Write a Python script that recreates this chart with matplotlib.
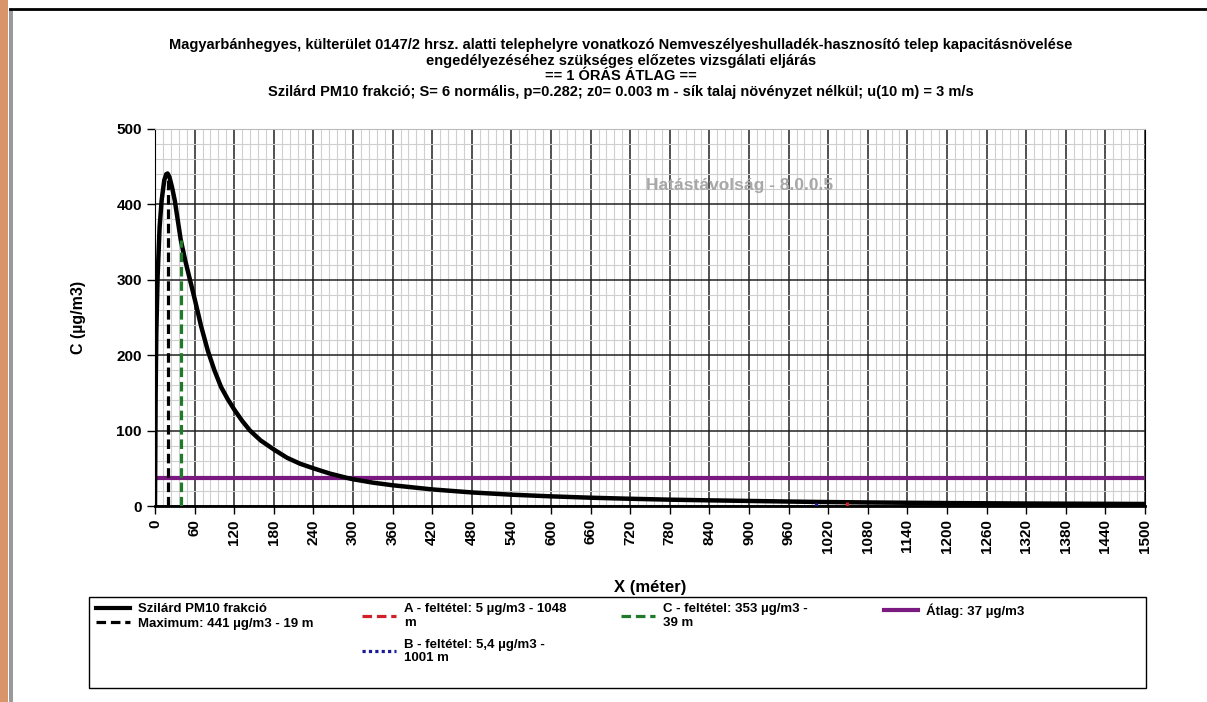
import numpy as np
import matplotlib
matplotlib.use("Agg")
import matplotlib.pyplot as plt
from matplotlib.patches import Rectangle
from matplotlib.lines import Line2D
from matplotlib.ticker import MultipleLocator

plt.rcParams['font.family'] = ['Liberation Sans', 'DejaVu Sans']
plt.rcParams['font.weight'] = 'bold'

# concentration curve
x_m = [0, 1, 2, 4, 7, 10, 14, 17, 19, 22, 26, 30, 39, 46, 53, 60, 70, 80, 90, 100,
       110, 120, 132, 144, 160, 180, 200, 220, 240, 265, 292, 300, 330, 360, 420,
       480, 540, 600, 660, 720, 780, 840, 900, 960, 1001, 1048, 1080, 1140, 1200,
       1260, 1320, 1380, 1440, 1500]
c_ug = [0, 150, 230, 305, 370, 405, 432, 440, 441, 436, 422, 405, 353, 325, 300, 275,
        238, 206, 180, 158, 142, 128, 113, 100, 87, 75, 64, 56, 50, 43, 37, 35.5,
        31, 27.5, 22, 18, 15, 12.8, 11, 9.6, 8.4, 7.5, 6.7, 5.9, 5.4, 5.0, 4.7, 4.3,
        3.9, 3.6, 3.3, 3.1, 2.9, 2.7]

max_x, max_c = 19, 441
a_x, a_c = 1048, 5
b_x, b_c = 1001, 5.4
c_x, c_c = 39, 353
atlag = 37

titles = ["Magyarbánhegyes, külterület 0147/2 hrsz. alatti telephelyre vonatkozó Nemveszélyeshulladék-hasznosító telep kapacitásnövelése",
          "engedélyezéséhez szükséges előzetes vizsgálati eljárás",
          "== 1 ÓRÁS ÁTLAG ==",
          "Szilárd PM10 frakció; S= 6 normális, p=0.282; z0= 0.003 m - sík talaj növényzet nélkül; u(10 m) = 3 m/s"]

labels = ["Szilárd PM10 frakció",
          "Maximum: 441 µg/m3 - 19 m",
          "A - feltétel: 5 µg/m3 - 1048\nm",
          "B - feltétel: 5,4 µg/m3 -\n1001 m",
          "C - feltétel: 353 µg/m3 -\n39 m",
          "Átlag: 37 µg/m3"]

W, H = 1207, 702
fig = plt.figure(figsize=(W / 100, H / 100), dpi=100)
ax = fig.add_axes([155 / W, 1 - 506 / H, 990 / W, 377 / H])

# page decorations of the screenshot
fig.add_artist(Rectangle((0, 0), 8 / W, 1, transform=fig.transFigure,
                         facecolor='#d9946a', edgecolor='none'))
fig.add_artist(Rectangle((9 / W, 0), 4 / W, 1 - 9 / H, transform=fig.transFigure,
                         facecolor='#9a9a9a', edgecolor='none'))
fig.add_artist(Line2D([10 / W, 1], [1 - 9 / H, 1 - 9 / H], transform=fig.transFigure,
                      color='black', linewidth=2))

dash = (0, (3, 1.5))
ax.plot(x_m, c_ug, color='black', linewidth=3.2, zorder=5, solid_joinstyle='round')
ax.plot([max_x, max_x], [0, max_c], color='black', linestyle=dash, linewidth=2.3, zorder=6)
ax.plot([a_x, a_x], [0, a_c], color='#d0202a', linestyle=dash, linewidth=2.3, zorder=6)
ax.plot([b_x, b_x], [0, b_c], color='#1a1a9a', linestyle=(0, (1, 1)), linewidth=2.3, zorder=6)
ax.plot([c_x, c_x], [0, c_c], color='#1f7a2a', linestyle=dash, linewidth=2.3, zorder=6)
ax.axhline(atlag, color='#7a1a80', linewidth=3, zorder=4)

ax.set_xlim(0, 1500)
ax.set_ylim(0, 500)
ax.xaxis.set_major_locator(MultipleLocator(60))
ax.xaxis.set_minor_locator(MultipleLocator(12))
ax.yaxis.set_major_locator(MultipleLocator(100))
ax.yaxis.set_minor_locator(MultipleLocator(20))
ax.grid(which='major', color='#222222', linewidth=1.1)
ax.grid(which='minor', color='#cfcfcf', linewidth=0.8)
ax.set_axisbelow(True)
ax.spines['top'].set_color('#bbbbbb')
for s in ['left', 'right', 'bottom']:
    ax.spines[s].set_color('black')
ax.spines['bottom'].set_linewidth(2)
ax.tick_params(axis='both', which='major', length=6, width=1, labelsize=11)
ax.tick_params(axis='both', which='minor', length=0)
ax.tick_params(axis='x', labelrotation=90)
for lbl in ax.get_xticklabels() + ax.get_yticklabels():
    lbl.set_fontweight('bold')

ax.set_xlabel("X (méter)", fontsize=12, fontweight='bold', labelpad=19)
ax.set_ylabel("C (µg/m3)", fontsize=11.5, fontweight='bold', labelpad=22)

ax.text(0.59, 0.851, "Hatástávolság - 8.0.0.5", transform=ax.transAxes, ha='center',
        va='center', fontsize=12.5, fontweight='bold', color='#a8a8a8')

ty = [49, 64.5, 80, 96]
for t, y in zip(titles, ty):
    fig.text(621 / W, 1 - y / H, t, ha='center', va='baseline', fontsize=10.5, fontweight='bold')

# legend: frame + one legend per column
fig.add_artist(Rectangle((89 / W, 1 - 688 / H), 1057 / W, 91 / H, transform=fig.transFigure,
                         facecolor='white', edgecolor='black', linewidth=1))
handles = [Line2D([], [], color='black', linewidth=3),
           Line2D([], [], color='black', linestyle=dash, linewidth=2.3),
           Line2D([], [], color='#d0202a', linestyle=dash, linewidth=2.3),
           Line2D([], [], color='#1a1a9a', linestyle=(0, (1, 1)), linewidth=2.3),
           Line2D([], [], color='#1f7a2a', linestyle=dash, linewidth=2.3),
           Line2D([], [], color='#7a1a80', linewidth=3)]
columns = [([0, 1], 96, 0.2), ([2, 3], 362, 0.75), ([4], 621, 0.2), ([5], 884, 0.2)]
for idx, xpix, sp in columns:
    fig.legend([handles[i] for i in idx], [labels[i] for i in idx], loc='upper left',
               bbox_to_anchor=(xpix / W, 1 - 603 / H), frameon=False,
               prop={'size': 9.5, 'weight': 'bold'}, handlelength=2.6, handletextpad=0.6,
               labelspacing=sp, borderaxespad=0, borderpad=0)

fig.savefig("out.png", dpi=100)
